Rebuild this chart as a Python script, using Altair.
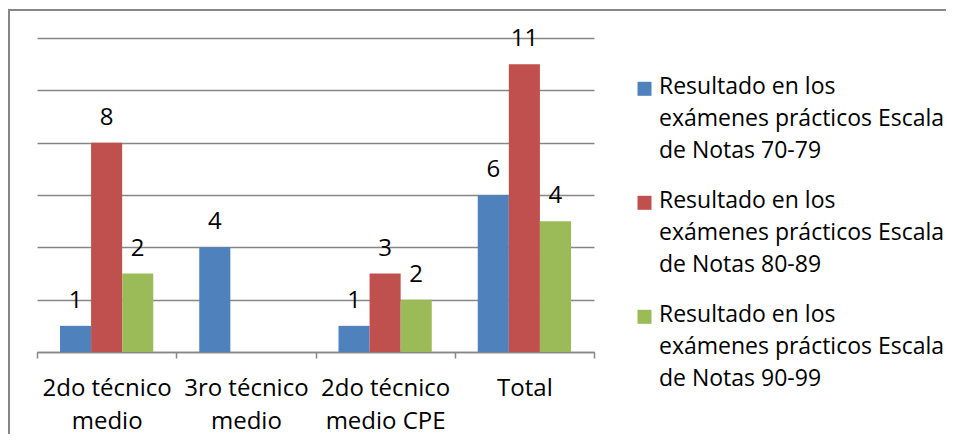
import altair as alt
import pandas as pd

categories = ["2do técnico\nmedio", "3ro técnico\nmedio", "2do técnico\nmedio CPE", "Total"]
series = [
    "Resultado en los\nexámenes prácticos Escala\nde Notas 70-79",
    "Resultado en los\nexámenes prácticos Escala\nde Notas 80-89",
    "Resultado en los\nexámenes prácticos Escala\nde Notas 90-99",
]
colors = ["#4F81BD", "#C0504D", "#9BBB59"]

# bar heights as drawn (grid units) and the data labels shown above them
heights_7079 = [0.5, 2.0, 0.5, 3.0]
heights_8089 = [4.0, None, 1.5, 5.5]
heights_9099 = [1.5, None, 1.0, 2.5]
labels_7079 = [1, 4, 1, 6]
labels_8089 = [8, None, 3, 11]
labels_9099 = [2, None, 2, 4]

rows = []
for s, hs, ls in zip(series, [heights_7079, heights_8089, heights_9099],
                     [labels_7079, labels_8089, labels_9099]):
    for c, h, l in zip(categories, hs, ls):
        if h is not None:
            rows.append({"cat": c, "series": s, "h": h, "label": str(l)})
df = pd.DataFrame(rows)

FONT = "Open Sans"
FS = 24
LFS = 23

base = alt.Chart(df)

x = alt.X("cat:N", sort=categories,
          scale=alt.Scale(paddingInner=0, paddingOuter=0),
          axis=alt.Axis(title=None, labelExpr="split(datum.label, '\\n')",
                        labelAngle=0, labelFontSize=FS, labelFont=FONT, labelColor="#000000",
                        labelLineHeight=33, labelPadding=18,
                        tickBand="extent", tickSize=6, tickColor="#868686", tickWidth=1.5,
                        domainColor="#868686", domainWidth=1.5, grid=False))
y = alt.Y("h:Q", scale=alt.Scale(domain=[0, 6], nice=False),
          axis=alt.Axis(title=None, labels=False, ticks=False, domain=False, grid=True,
                        values=[0, 1, 2, 3, 4, 5, 6], gridColor="#868686", gridWidth=1.5))

bars = base.mark_bar().encode(
    x=x,
    xOffset=alt.XOffset("series:N", sort=series,
                        scale=alt.Scale(paddingInner=0, paddingOuter=0.74)),
    y=y,
    color=alt.Color("series:N", sort=series,
                    scale=alt.Scale(domain=series, range=colors),
                    legend=alt.Legend(title=None, orient="none", legendX=596, legendY=26,
                                      labelExpr="split(datum.label, '\\n')",
                                      labelFont=FONT, labelFontSize=LFS, labelColor="#000000",
                                      labelLimit=0, labelOffset=3,
                                      symbolType="M-1,0.9H1V2.9H-1Z", symbolSize=196,
                                      symbolStrokeWidth=0,
                                      rowPadding=15, padding=0, labelBaseline="top")),
)

text = base.mark_text(font=FONT, fontSize=FS, color="#000000", baseline="alphabetic", dy=-18).encode(
    x=alt.X("cat:N", sort=categories),
    xOffset=alt.XOffset("series:N", sort=series),
    y=alt.Y("h:Q"),
    text="label:N",
)

border_left = alt.Chart(pd.DataFrame({"a": [0]})).mark_rule(color="#868686", strokeWidth=2).encode(
    x=alt.value(-28), y=alt.value(-28), y2=alt.value(400))
border_top = alt.Chart(pd.DataFrame({"a": [0]})).mark_rule(color="#868686", strokeWidth=2).encode(
    x=alt.value(-29), x2=alt.value(910), y=alt.value(-28))

chart = alt.layer(bars, text, border_left, border_top).properties(
    width=557, height=314,
    autosize=alt.AutoSizeParams(type="none"),
    padding={"left": 29, "top": 30, "right": 352, "bottom": 82},
).configure(
    view=alt.ViewConfig(strokeWidth=0),
    style={"guide-label": {"lineHeight": 32}},
)

chart.save("out.html", embed_options={"renderer": "svg", "actions": False})
